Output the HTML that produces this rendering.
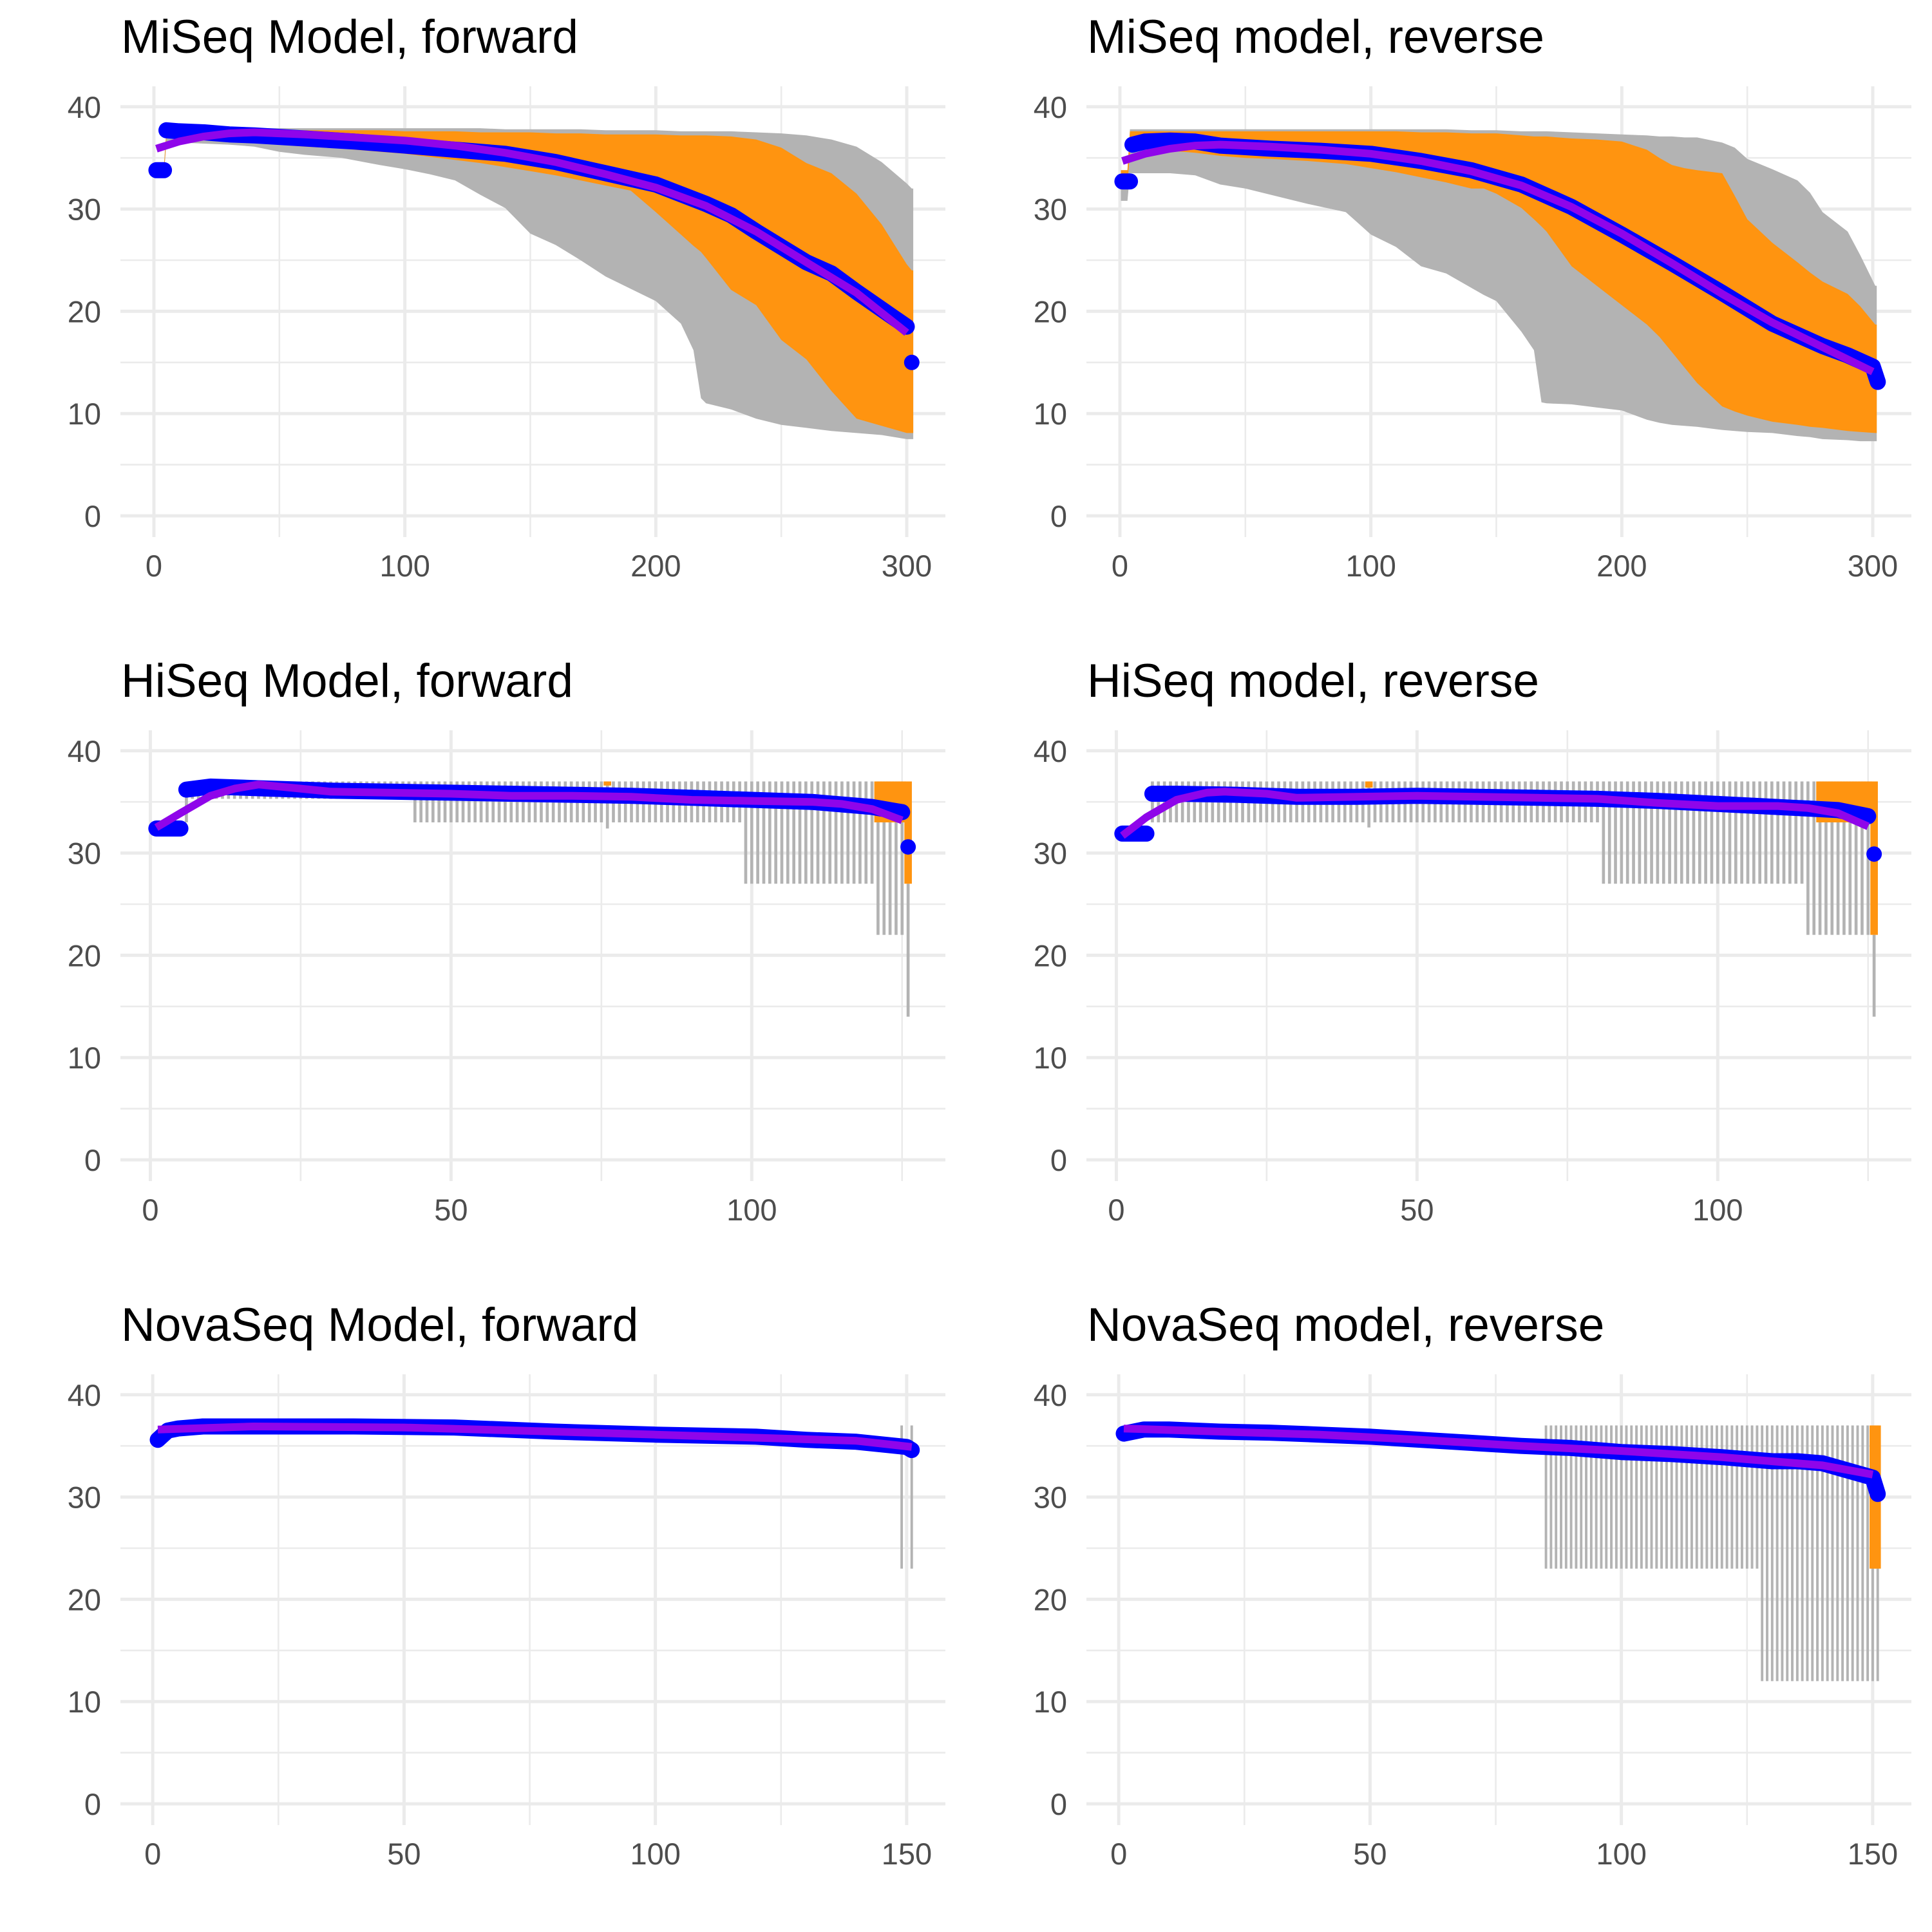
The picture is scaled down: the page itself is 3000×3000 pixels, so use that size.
<!DOCTYPE html>
<html><head><meta charset="utf-8">
<style>
html,body{margin:0;padding:0;background:#fff;}
svg{display:block;}
text{font-family:"Liberation Sans",Arial,sans-serif;}
</style></head>
<body>
<svg id="fig" xmlns="http://www.w3.org/2000/svg" width="3000" height="3000" viewBox="0 0 3000 3000">
<rect x="0" y="0" width="3000" height="3000" fill="#ffffff"/>
</svg>
<script>
// ---------- MiSeq forward ----------
const mfCycles = [1,4,5,10,20,30,40,50,60,75,90,100,110,120,130,140,150,160,170,180,190,200,210,215,218,220,230,240,250,260,270,280,290,300,302];
const mfGrayHi = [34.3,34.3,37.9,37.9,37.9,37.9,37.9,37.9,37.9,37.9,37.9,37.9,37.9,37.9,37.9,37.8,37.8,37.8,37.8,37.7,37.7,37.7,37.6,37.6,37.6,37.6,37.6,37.5,37.4,37.2,36.8,36.1,34.6,32.5,32.0];
const mfGrayLo = [33.4,33.4,36.6,36.5,36.4,36.3,36.1,35.6,35.3,35.0,34.3,33.9,33.4,32.8,31.4,30.1,27.6,26.5,25.0,23.4,22.2,21.0,18.8,16.2,11.5,11.0,10.4,9.5,8.9,8.6,8.3,8.1,7.9,7.5,7.5];
const mfOrangeHi = [34.1,34.1,37.7,37.7,37.7,37.7,37.7,37.7,37.7,37.7,37.7,37.6,37.6,37.6,37.5,37.5,37.5,37.4,37.4,37.3,37.3,37.3,37.2,37.2,37.2,37.2,37.1,36.8,36.0,34.5,33.5,31.5,28.5,24.6,24.0];
const mfOrangeLo = [33.5,33.5,36.9,36.9,36.8,36.6,36.5,36.3,36.1,35.9,35.6,35.4,35.1,34.8,34.5,34.1,33.7,33.3,32.8,32.3,31.8,29.7,27.5,26.4,25.8,25.2,22.1,20.6,17.2,15.3,12.2,9.5,8.8,8.1,8.1];
const mfMeanX = [1,2,3,4,5,10,20,30,40,60,80,100,120,140,160,180,200,220,230,240,250,260,270,280,290,300,302];
const mfMean  = [33.8,33.8,33.8,33.8,37.7,37.6,37.5,37.3,37.2,36.9,36.6,36.2,35.8,35.4,34.6,33.5,32.4,30.5,29.4,27.8,26.3,24.8,23.7,21.9,20.2,18.5,15.0];
const mfSmoothX = [1,10,20,30,40,60,80,100,120,140,160,180,200,220,240,260,280,300];
const mfSmooth  = [35.9,36.6,37.1,37.4,37.5,37.3,37.0,36.7,36.2,35.5,34.6,33.4,32.1,30.3,27.8,24.8,21.8,17.9];

// ---------- MiSeq reverse ----------
const mrCycles = [1,3,4,5,10,20,30,40,50,60,75,90,95,100,110,120,130,140,145,150,160,165,168,170,180,190,200,210,215,220,225,230,240,245,250,260,270,275,280,290,295,301];
const mrGrayHi = [33.8,33.8,37.8,37.8,37.8,37.8,37.8,37.8,37.8,37.8,37.8,37.8,37.8,37.8,37.8,37.8,37.8,37.7,37.7,37.7,37.6,37.6,37.6,37.6,37.5,37.4,37.3,37.2,37.1,37.1,37.0,37.0,36.5,36.0,34.9,33.9,32.8,31.6,29.7,27.8,25.5,22.5];
const mrGrayLo = [30.8,30.8,33.5,33.5,33.5,33.5,33.3,32.4,32.0,31.4,30.5,29.7,28.6,27.5,26.3,24.4,23.7,22.3,21.6,21.0,18.0,16.2,11.1,11.0,10.9,10.6,10.3,9.4,9.1,8.9,8.8,8.7,8.4,8.3,8.2,8.1,7.8,7.7,7.5,7.4,7.3,7.3];
const mrOrangeHi = [33.8,33.8,37.6,37.6,37.6,37.6,37.6,37.6,37.6,37.6,37.6,37.6,37.6,37.6,37.6,37.5,37.5,37.4,37.4,37.4,37.2,37.1,37.1,37.1,36.9,36.8,36.6,35.8,35.0,34.3,34.0,33.8,33.5,31.3,29.0,26.7,24.8,23.8,22.9,21.7,20.5,18.7];
const mrOrangeLo = [32.3,32.3,35.6,35.6,35.8,35.7,35.5,35.2,35.0,34.9,34.7,34.4,34.2,34.0,33.6,33.1,32.6,32.0,32.0,31.5,30.1,29.0,28.3,27.8,24.4,22.5,20.6,18.7,17.5,16.0,14.5,13.0,10.7,10.2,9.8,9.2,8.9,8.7,8.6,8.3,8.2,8.1];
const mrMeanX = [1,2,3,4,5,10,20,30,40,60,80,100,120,140,160,180,200,220,240,260,280,290,300,302];
const mrMean  = [32.7,32.7,32.7,32.7,36.3,36.6,36.7,36.6,36.2,35.9,35.7,35.4,34.7,33.8,32.4,30.2,27.5,24.7,21.8,18.8,16.6,15.7,14.6,13.1];
const mrSmoothX = [1,10,20,30,40,60,80,100,120,140,160,180,200,220,240,260,280,300];
const mrSmooth  = [34.7,35.4,35.9,36.2,36.3,36.1,35.8,35.4,34.7,33.7,32.3,30.2,27.6,24.7,21.7,18.9,16.5,14.1];

// ---------- HiSeq forward ----------
const hfGrayStart = [6,7,44,76,77,99,121,126];
const hfGrayEnd   = [6,43,75,76,98,120,125,126];
const hfGrayHi    = [35.5,37,37,37,37,37,37,27];
const hfGrayLo    = [33,35.3,33,32.4,33,27,22,14];
const hfOrangeStart = [76,121,126];
const hfOrangeEnd   = [76,125,126];
const hfOrangeHi    = [37,37,37];
const hfOrangeLo    = [36.6,33,27];
const hfMeanX = [1,2,3,4,5,6,10,20,30,40,50,60,70,80,90,100,110,120,125,126];
const hfMean  = [32.4,32.4,32.4,32.4,32.4,36.2,36.5,36.3,36.1,36.0,35.9,35.8,35.7,35.6,35.4,35.2,35.0,34.5,34.0,30.6];
const hfSmoothX = [1,5,10,14,18,25,30,40,50,60,70,80,90,100,110,115,120,125];
const hfSmooth  = [32.5,33.9,35.6,36.3,36.7,36.3,36.0,35.9,35.8,35.6,35.6,35.5,35.2,35.1,35.0,34.8,34.3,33.2];

// ---------- HiSeq reverse ----------
const hrGrayStart = [6,42,43,81,115,126];
const hrGrayEnd   = [41,42,80,114,125,126];
const hrGrayHi    = [37,37,37,37,37,22];
const hrGrayLo    = [33,32.5,33,27,22,14];
const hrOrangeStart = [42,117,126];
const hrOrangeEnd   = [42,125,126];
const hrOrangeHi    = [37,37,37];
const hrOrangeLo    = [36.4,33,22];
const hrMeanX = [1,2,3,4,5,6,10,20,30,40,50,60,70,80,90,100,110,120,125,126];
const hrMean  = [31.9,31.9,31.9,31.9,31.9,35.8,35.8,35.7,35.5,35.5,35.6,35.5,35.4,35.3,35.1,34.8,34.5,34.2,33.6,29.9];
const hrSmoothX = [1,5,10,15,18,25,30,40,50,60,70,80,90,100,110,115,120,125];
const hrSmooth  = [31.7,33.5,35.2,35.9,36.0,35.8,35.4,35.5,35.6,35.5,35.4,35.3,34.9,34.6,34.6,34.4,33.9,32.6];

// ---------- NovaSeq forward ----------
const nfGrayStart = [149,151];
const nfGrayEnd   = [149,151];
const nfGrayHi    = [37,37];
const nfGrayLo    = [23,23];
const nfOrangeStart = [];
const nfOrangeEnd   = [];
const nfOrangeHi    = [];
const nfOrangeLo    = [];
const nfMeanX = [1,3,5,10,20,40,60,80,100,120,130,140,150,151];
const nfMean  = [35.6,36.5,36.7,36.9,36.9,36.9,36.8,36.4,36.1,35.9,35.6,35.4,34.9,34.6];
const nfSmoothX = [1,20,50,80,100,120,140,151];
const nfSmooth  = [36.6,36.9,36.8,36.4,36.1,35.8,35.5,34.9];

// ---------- NovaSeq reverse ----------
const nrGrayStart = [85,128];
const nrGrayEnd   = [127,151];
const nrGrayHi    = [37,37];
const nrGrayLo    = [23,12];
const nrOrangeStart = [150];
const nrOrangeEnd   = [151];
const nrOrangeHi    = [37];
const nrOrangeLo    = [23];
const nrMeanX = [1,5,10,20,30,40,50,60,70,80,90,100,110,120,130,135,140,145,150,151];
const nrMean  = [36.2,36.6,36.6,36.4,36.3,36.1,35.9,35.6,35.3,35.0,34.8,34.4,34.2,33.9,33.5,33.5,33.3,32.6,31.9,30.3];
const nrSmoothX = [1,20,40,60,80,100,120,140,150];
const nrSmooth  = [36.7,36.4,36.1,35.6,35.0,34.5,33.9,33.1,32.2];

// ---------- tick arrays ----------
const yTicks = [0,10,20,30,40];
const yMinor = [5,15,25,35];
const xTicksMiSeq = [0,100,200,300];
const xMinorMiSeq = [50,150,250];
const xTicksHiSeq = [0,50,100];
const xMinorHiSeq = [25,75,125];
const xTicksNova = [0,50,100,150];
const xMinorNova = [25,75,125];

const NS = 'http://www.w3.org/2000/svg';
const svg = document.getElementById('fig');
function mk(tag, attrs, parent){
  const e = document.createElementNS(NS, tag);
  for (const k in attrs) e.setAttribute(k, attrs[k]);
  (parent||svg).appendChild(e);
  return e;
}

const panels = [
  {key:'miseq-forward', title:'MiSeq Model, forward', ox:0, oy:0, lo:-13.34, hi:315.4, mode:'area',
   c:mfCycles, gh:mfGrayHi, gl:mfGrayLo, oh:mfOrangeHi, ol:mfOrangeLo, mx:mfMeanX, my:mfMean, sx:mfSmoothX, sy:mfSmooth, xt:xTicksMiSeq, xm:xMinorMiSeq},
  {key:'miseq-reverse', title:'MiSeq model, reverse', ox:1500, oy:0, lo:-13.34, hi:315.4, mode:'area',
   c:mrCycles, gh:mrGrayHi, gl:mrGrayLo, oh:mrOrangeHi, ol:mrOrangeLo, mx:mrMeanX, my:mrMean, sx:mrSmoothX, sy:mrSmooth, xt:xTicksMiSeq, xm:xMinorMiSeq},
  {key:'hiseq-forward', title:'HiSeq Model, forward', ox:0, oy:1000, lo:-4.97, hi:132.2, mode:'runs',
   gs:hfGrayStart, ge:hfGrayEnd, gh:hfGrayHi, gl:hfGrayLo, os:hfOrangeStart, oe:hfOrangeEnd, oh:hfOrangeHi, ol:hfOrangeLo, mx:hfMeanX, my:hfMean, sx:hfSmoothX, sy:hfSmooth, xt:xTicksHiSeq, xm:xMinorHiSeq},
  {key:'hiseq-reverse', title:'HiSeq model, reverse', ox:1500, oy:1000, lo:-4.97, hi:132.2, mode:'runs',
   gs:hrGrayStart, ge:hrGrayEnd, gh:hrGrayHi, gl:hrGrayLo, os:hrOrangeStart, oe:hrOrangeEnd, oh:hrOrangeHi, ol:hrOrangeLo, mx:hrMeanX, my:hrMean, sx:hrSmoothX, sy:hrSmooth, xt:xTicksHiSeq, xm:xMinorHiSeq},
  {key:'novaseq-forward', title:'NovaSeq Model, forward', ox:0, oy:2000, lo:-6.43, hi:157.7, mode:'runs',
   gs:nfGrayStart, ge:nfGrayEnd, gh:nfGrayHi, gl:nfGrayLo, os:nfOrangeStart, oe:nfOrangeEnd, oh:nfOrangeHi, ol:nfOrangeLo, mx:nfMeanX, my:nfMean, sx:nfSmoothX, sy:nfSmooth, xt:xTicksNova, xm:xMinorNova},
  {key:'novaseq-reverse', title:'NovaSeq model, reverse', ox:1500, oy:2000, lo:-6.43, hi:157.7, mode:'runs',
   gs:nrGrayStart, ge:nrGrayEnd, gh:nrGrayHi, gl:nrGrayLo, os:nrOrangeStart, oe:nrOrangeEnd, oh:nrOrangeHi, ol:nrOrangeLo, mx:nrMeanX, my:nrMean, sx:nrSmoothX, sy:nrSmooth, xt:xTicksNova, xm:xMinorNova}
];

const PL = 187, PR = 1468, PT = 134, PB = 834, Y0 = 801, YU = 15.88;

panels.forEach(p => {
  const g = mk('g', {});
  
  
  const X = v => p.ox + PL + (v - p.lo) / (p.hi - p.lo) * (PR - PL);
  const Y = v => p.oy + Y0 - v * YU;
  const pitch = X(1) - X(0);

  yMinor.forEach(v => {
    const l = mk('line', {x1:p.ox+PL, x2:p.ox+PR, y1:Y(v), y2:Y(v), stroke:'#ebebeb', 'stroke-width':2.6}, g);
    
    
  });
  p.xm.forEach(v => {
    const l = mk('line', {x1:X(v), x2:X(v), y1:p.oy+PT, y2:p.oy+PB, stroke:'#ebebeb', 'stroke-width':2.6}, g);
    
    
  });
  yTicks.forEach(v => {
    const l = mk('line', {x1:p.ox+PL, x2:p.ox+PR, y1:Y(v), y2:Y(v), stroke:'#ebebeb', 'stroke-width':5}, g);
    
    
    const t = mk('text', {x:p.ox+157, y:Y(v)+17, 'text-anchor':'end', 'font-size':47, fill:'#4d4d4d'}, g);
    t.textContent = String(v);
    
    
  });
  p.xt.forEach(v => {
    const l = mk('line', {x1:X(v), x2:X(v), y1:p.oy+PT, y2:p.oy+PB, stroke:'#ebebeb', 'stroke-width':5}, g);
    
    
    const t = mk('text', {x:X(v), y:p.oy+895, 'text-anchor':'middle', 'font-size':47, fill:'#4d4d4d'}, g);
    t.textContent = String(v);
    
    
  });

  const tt = mk('text', {x:p.ox+188, y:p.oy+82, 'font-size':73, fill:'#000'}, g);
  tt.textContent = p.title;
  
  

  if (p.mode === 'area') {
    const band = (hi, lo, color, name) => {
      let pts = [];
      const n = p.c.length;
      for (let i = 0; i < n; i++) {
        const xa = X(p.c[i]) - (i === 0 ? pitch*0.6 : 0);
        pts.push(xa.toFixed(1) + ',' + Y(hi[i]).toFixed(1));
        if (i === n-1) pts.push((X(p.c[i]) + pitch*0.6).toFixed(1) + ',' + Y(hi[i]).toFixed(1));
      }
      for (let i = n-1; i >= 0; i--) {
        if (i === n-1) pts.push((X(p.c[i]) + pitch*0.6).toFixed(1) + ',' + Y(lo[i]).toFixed(1));
        pts.push((X(p.c[i]) - (i === 0 ? pitch*0.6 : 0)).toFixed(1) + ',' + Y(lo[i]).toFixed(1));
      }
      const pg = mk('polygon', {points:pts.join(' '), fill:color}, g);
      
      
    };
    band(p.gh, p.gl, '#b3b3b3', 'min-max-range');
    band(p.oh, p.ol, '#ff9410', 'quartile-range');
  } else {
    const runs = (s, e, hi, lo, color, w, name) => {
      for (let i = 0; i < s.length; i++) {
        for (let c = s[i]; c <= e[i]; c++) {
          const r = mk('rect', {x:X(c)-w/2, y:Y(hi[i]), width:w, height:Y(lo[i])-Y(hi[i]), fill:color}, g);
          
          
        }
      }
    };
    runs(p.gs, p.ge, p.gh, p.gl, '#b3b3b3', Math.max(3.5, pitch*0.5), 'min-max-range');
    runs(p.os, p.oe, p.oh, p.ol, '#ff9410', pitch*1.25, 'quartile-range');
  }

  // mean points: break the band only at an abrupt jump between adjacent cycles
  let d = '';
  for (let i = 0; i < p.mx.length; i++) {
    const brk = i === 0 || (Math.abs(p.my[i] - p.my[i-1]) > 2 && (p.mx[i] - p.mx[i-1]) <= 2);
    d += (brk ? 'M' : 'L') + X(p.mx[i]).toFixed(1) + ',' + Y(p.my[i]).toFixed(1) + ' ';
  }
  const band = mk('path', {d:d, fill:'none', stroke:'#0000ff', 'stroke-width':25, 'stroke-linecap':'round', 'stroke-linejoin':'round'}, g);
  
  
  for (let i = 0; i < p.mx.length; i++) {
    const c = mk('circle', {cx:X(p.mx[i]), cy:Y(p.my[i]), r:12, fill:'#0000ff'}, g);
    
    
  }

  let sd = '';
  for (let i = 0; i < p.sx.length; i++) sd += (i ? 'L' : 'M') + X(p.sx[i]).toFixed(1) + ',' + Y(p.sy[i]).toFixed(1) + ' ';
  const sm = mk('path', {d:sd, fill:'none', stroke:'#8f05ea', 'stroke-width':12, 'stroke-linejoin':'round'}, g);
  
  
});
</script>
</body></html>
